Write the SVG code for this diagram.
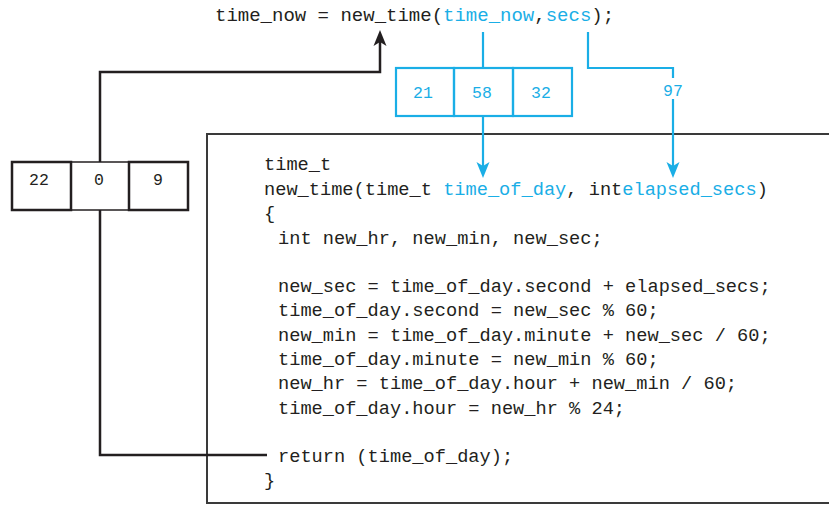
<svg xmlns="http://www.w3.org/2000/svg" width="829" height="505" viewBox="0 0 829 505">
<style>
  .code { font-family: "Liberation Mono", "DejaVu Sans Mono", monospace; font-size: 18.67px; fill: #231F20; }
  .top { font-family: "Liberation Mono", "DejaVu Sans Mono", monospace; font-size: 19px; fill: #231F20; }
  .blue { fill: #1AAEE6; }
  .num { font-family: "Liberation Mono", "DejaVu Sans Mono", monospace; font-size: 16.5px; text-anchor: middle; }
  .bk { fill: none; stroke: #231F20; stroke-width: 2.5; }
  .bkthin { fill: #fff; stroke: #231F20; stroke-width: 1.5; }
  .bl { fill: none; stroke: #1AAEE6; stroke-width: 2.2; }
  .frame { fill: none; stroke: #3a3a3a; stroke-width: 2; }
</style>
<defs>
  <marker id="ahBlack" viewBox="-17 -7 17 14" refX="-10" refY="0" markerWidth="17" markerHeight="14" markerUnits="userSpaceOnUse" orient="auto">
    <path d="M-16,-6.5 L0,0 L-16,6.5 L-12,0 z" fill="#231F20"/>
  </marker>
  <marker id="ahBlue" viewBox="-17 -7 17 14" refX="-10" refY="0" markerWidth="17" markerHeight="14" markerUnits="userSpaceOnUse" orient="auto">
    <path d="M-16,-6.5 L0,0 L-16,6.5 L-12,0 z" fill="#1AAEE6"/>
  </marker>
</defs>
<rect width="829" height="505" fill="#fff"/>

<g id="function-body">
  <path class="frame" d="M829,134 H207 V503 H829"/>
  <text class="code" x="264" y="170">time_t</text>
  <text class="code" x="264" y="194.5">new_time(time_t <tspan class="blue">time_of_day</tspan>, int<tspan class="blue">elapsed_secs</tspan>)</text>
  <text class="code" x="264" y="219">{</text>
  <text class="code" x="278" y="243.5">int new_hr, new_min, new_sec;</text>
  <text class="code" x="278" y="292">new_sec = time_of_day.second + elapsed_secs;</text>
  <text class="code" x="278" y="316.3">time_of_day.second = new_sec % 60;</text>
  <text class="code" x="278" y="340.6">new_min = time_of_day.minute + new_sec / 60;</text>
  <text class="code" x="278" y="364.9">time_of_day.minute = new_min % 60;</text>
  <text class="code" x="278" y="389.2">new_hr = time_of_day.hour + new_min / 60;</text>
  <text class="code" x="278" y="413.5">time_of_day.hour = new_hr % 24;</text>
  <text class="code" x="278" y="461.5">return (time_of_day);</text>
  <text class="code" x="264" y="486">}</text>
</g>

<g id="caller-statement">
  <text class="top" x="215" y="21">time_now = new_time(<tspan class="blue">time_now</tspan>,<tspan class="blue">secs</tspan>);</text>
</g>

<g id="connectors">
  <path class="bk" d="M100,162 V72 H380 V40" marker-end="url(#ahBlack)"/>
  <path class="bk" d="M100,210 V455 H267"/>
  <path class="bl" d="M483,32 V68"/>
  <path class="bl" d="M483,116 V168" marker-end="url(#ahBlue)"/>
  <path class="bl" d="M588,32 V68 H673 V78"/>
  <path class="bl" d="M673,99 V168" marker-end="url(#ahBlue)"/>
</g>

<g id="actual-struct">
  <rect x="396" y="68" width="58" height="48" class="bl"/>
  <rect x="454" y="68" width="59" height="48" class="bl"/>
  <rect x="513" y="68" width="59" height="48" class="bl"/>
  <text class="num blue" x="423" y="98">21</text>
  <text class="num blue" x="482" y="98">58</text>
  <text class="num blue" x="541" y="98">32</text>
</g>

<g id="secs-value">
  <text class="num blue" x="673" y="96">97</text>
</g>

<g id="result-struct">
  <rect x="71" y="162" width="58" height="48" class="bkthin"/>
  <rect x="12" y="162" width="59" height="48" class="bk"/>
  <rect x="129" y="162" width="59" height="48" class="bk"/>
  <text class="num" fill="#231F20" x="39" y="185">22</text>
  <text class="num" fill="#231F20" x="99" y="185">0</text>
  <text class="num" fill="#231F20" x="158" y="185">9</text>
</g>
</svg>
